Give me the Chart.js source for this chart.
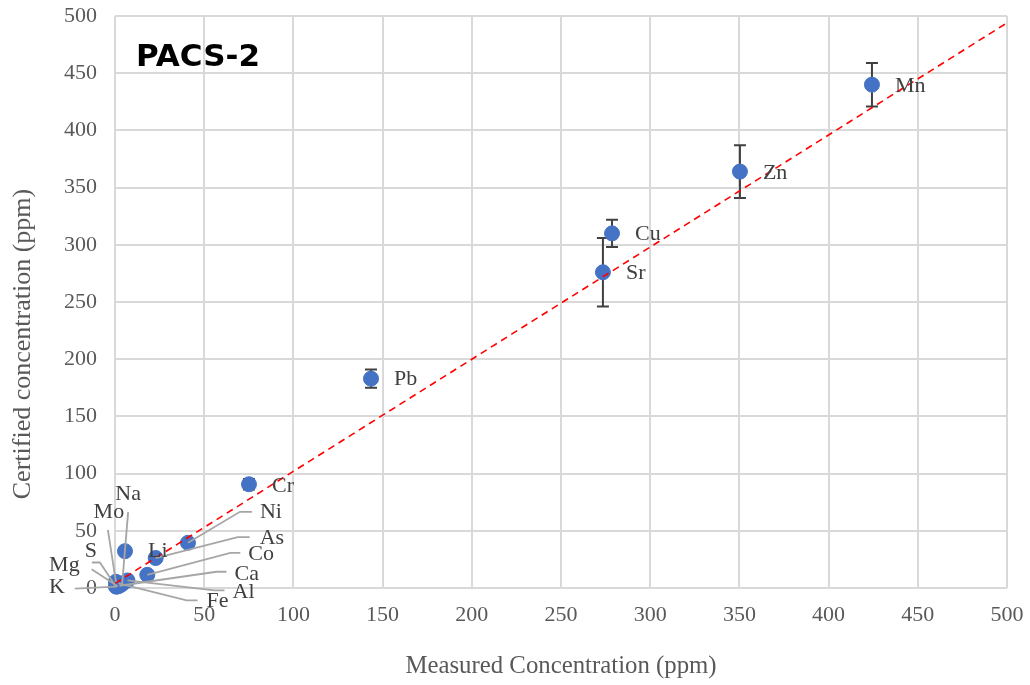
<!DOCTYPE html>
<html>
<head>
<meta charset="utf-8">
<script src="https://cdn.jsdelivr.net/npm/chart.js@4.4.0/dist/chart.umd.min.js"></script>
<style>
  html,body{margin:0;padding:0;background:#fff;}
  #wrap{width:1030px;height:685px;position:relative;}
</style>
</head>
<body>
<div id="wrap"><canvas id="c"></canvas></div>
<script>
// values (ppm)
const elements  = ['Mn','Zn','Cu','Sr','Pb','Cr','Ni','As','Li','Co','Ca','Al','Fe','K','Mg','S','Mo','Na'];
const measured  = [424.3,350.3,278.6,273.5,143.5,75.1,40.9,22.8,5.6,18.1,2.5,7,2,1,1.5,0.5,0.5,4];
const certified = [440,364,310,276,183,90.7,39.5,26.2,32.2,11.5,1.96,6.62,4.09,1.24,1.47,1.29,5.43,3.45];
const certErr   = [19,23,12,30,8,4.6,2.3,1.5,0,0.3,0,0,0,0,0,0,0,0];
const fitX = [0,500];
const fitY = [4,494];
const tickVals = [0,50,100,150,200,250,300,350,400,450,500];

// where each data label sits, in px from its point (tx,ty = text anchor, lead = leader path)
const labelLayout = {
  Mn:{tx:23,ty:2}, Zn:{tx:23,ty:2}, Cu:{tx:23,ty:1}, Sr:{tx:23,ty:1}, Pb:{tx:23,ty:1},
  Cr:{tx:23,ty:2}, Li:{tx:23,ty:0},
  Ni:{tx:72,ty:-31,lead:[[52,-31],[64,-31]]},
  As:{tx:104,ty:-20,lead:[[82,-21],[94,-21]]},
  Co:{tx:101,ty:-21,lead:[[83,-22],[93,-22]]},
  Ca:{tx:115,ty:-12,lead:[[97,-14],[107,-14]]},
  Al:{tx:105,ty:12,lead:[[87,10],[97,10]]},
  Fe:{tx:88,ty:18,lead:[[68,17],[79,17]]},
  K:{tx:-52,ty:1,align:'right',lead:[[-42,2]]},
  Mg:{tx:-38,ty:-21,align:'right',lead:[[-26,-17]]},
  S:{tx:-19,ty:-35,align:'right',lead:[[-16,-24],[-24,-24]]},
  Mo:{tx:-7,ty:-70,align:'center',lead:[[-8,-52]]},
  Na:{tx:6,ty:-90,align:'center',lead:[[6,-72]]}
};

const serif = '"Liberation Serif", "DejaVu Serif", serif';
const gridColor = '#d9d9d9';
const tickColor = '#595959';

const errorBars = {
  id:'errorBars',
  beforeDatasetsDraw(chart){
    const {ctx, scales:{x,y}} = chart;
    ctx.save();
    ctx.strokeStyle = '#404040'; ctx.lineWidth = 2;
    measured.forEach((m,i)=>{
      const e = certErr[i]; if(!e) return;
      const px = x.getPixelForValue(m);
      const top = y.getPixelForValue(certified[i]+e), bot = y.getPixelForValue(certified[i]-e);
      ctx.beginPath();
      ctx.moveTo(px,top); ctx.lineTo(px,bot);
      ctx.moveTo(px-6,top); ctx.lineTo(px+6,top);
      ctx.moveTo(px-6,bot); ctx.lineTo(px+6,bot);
      ctx.stroke();
    });
    ctx.restore();
  }
};

const pointLabels = {
  id:'pointLabels',
  afterDatasetsDraw(chart){
    const {ctx, scales:{x,y}} = chart;
    ctx.save();
    ctx.strokeStyle = '#a6a6a6'; ctx.lineWidth = 1.8;
    elements.forEach((el,i)=>{
      const L = labelLayout[el]; if(!L || !L.lead) return;
      const px = x.getPixelForValue(measured[i]), py = y.getPixelForValue(certified[i]);
      ctx.beginPath(); ctx.moveTo(px,py);
      L.lead.forEach(p=>ctx.lineTo(px+p[0], py+p[1]));
      ctx.stroke();
    });
    ctx.font = '22px ' + serif; ctx.fillStyle = '#404040'; ctx.textBaseline = 'middle';
    elements.forEach((el,i)=>{
      const L = labelLayout[el]; if(!L) return;
      const px = x.getPixelForValue(measured[i]), py = y.getPixelForValue(certified[i]);
      ctx.textAlign = L.align || 'left';
      ctx.fillText(el, px+L.tx, py+L.ty);
    });
    ctx.restore();
  }
};

// chart tag + y axis title (the reference's title sits lower than the plot centre)
const extras = {
  id:'extras',
  afterDraw(chart){
    const {ctx} = chart;
    ctx.save();
    ctx.font = 'bold 31px "DejaVu Sans", sans-serif';
    ctx.fillStyle = '#000'; ctx.textAlign = 'left'; ctx.textBaseline = 'middle';
    ctx.fillText('PACS-2', 136, 58);
    ctx.translate(23, 344);
    ctx.rotate(-Math.PI/2);
    ctx.font = '26px ' + serif; ctx.fillStyle = tickColor; ctx.textAlign = 'center';
    ctx.fillText('Certified concentration (ppm)', 0, 0);
    ctx.restore();
  }
};

new Chart(document.getElementById('c'), {
  type:'scatter',
  data:{
    datasets:[
      {
        label:'Trend', type:'line', order:0,
        data: fitX.map((v,i)=>({x:v, y:fitY[i]})),
        borderColor:'#ff0000', borderWidth:1.6, borderDash:[7,5],
        pointRadius:0, fill:false, tension:0
      },
      {
        label:'PACS-2', order:1, clip:false,
        data: measured.map((v,i)=>({x:v, y:certified[i]})),
        backgroundColor:'#4472c4', borderColor:'#4472c4', borderWidth:1,
        pointRadius:7.5, pointHoverRadius:7.5
      }
    ]
  },
  options:{
    responsive:true, maintainAspectRatio:false, animation:false,
    layout:{padding:{top:16, right:23, left:0, bottom:0}},
    plugins:{legend:{display:false}, tooltip:{enabled:false}},
    scales:{
      x:{
        type:'linear', min:0, max:500,
        afterBuildTicks: s => { s.ticks = tickVals.map(v=>({value:v})); },
        afterFit: s => { s.height = 97; s.paddingLeft = 0; s.paddingRight = 0; },
        grid:{color:gridColor, lineWidth:2, drawTicks:false},
        border:{display:false},
        ticks:{color:tickColor, font:{family:serif, size:22}, padding:14},
        title:{display:true, text:'Measured Concentration (ppm)', color:tickColor,
               font:{family:serif, size:24.8}, padding:{top:5,bottom:4}}
      },
      y:{
        type:'linear', min:0, max:500,
        afterBuildTicks: s => { s.ticks = tickVals.map(v=>({value:v})); },
        afterFit: s => { s.width = 115; s.paddingTop = 0; s.paddingBottom = 0; },
        grid:{color:gridColor, lineWidth:2, drawTicks:false},
        border:{display:false},
        ticks:{color:tickColor, font:{family:serif, size:22}, padding:18}
      }
    }
  },
  plugins:[errorBars, pointLabels, extras]
});
</script>
</body>
</html>
